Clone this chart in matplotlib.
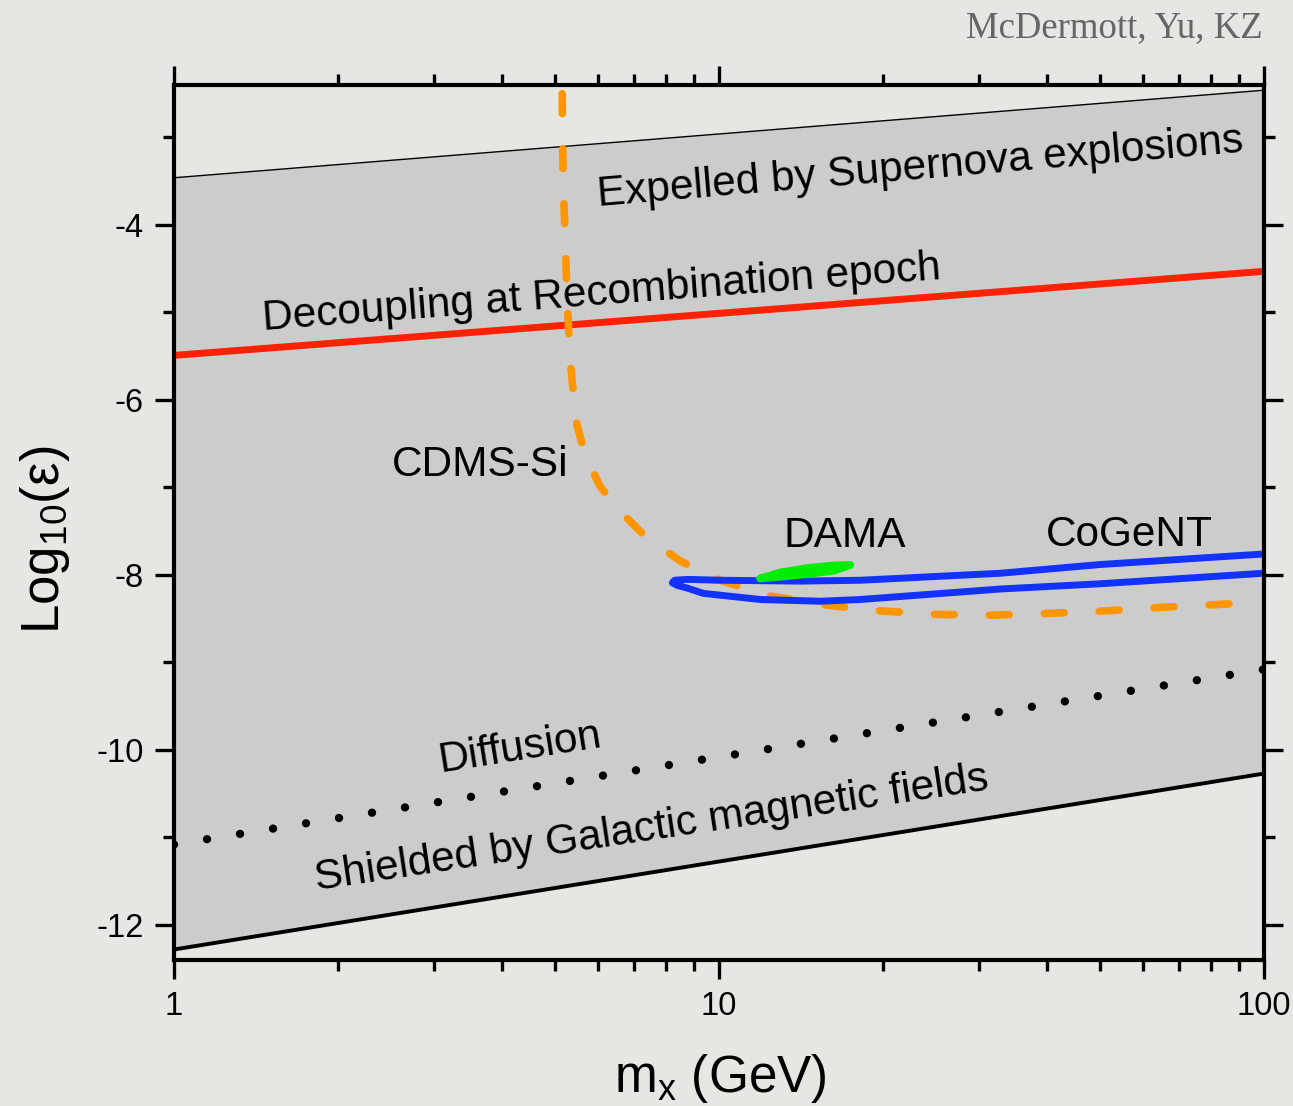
import matplotlib
matplotlib.use("Agg")
import matplotlib.pyplot as plt
from matplotlib.ticker import LogLocator, NullFormatter, FixedLocator, FixedFormatter

plt.rcParams['font.family'] = ['Liberation Sans', 'DejaVu Sans']
plt.rcParams['axes.unicode_minus'] = False
plt.rcParams['mathtext.default'] = 'regular'

# straight boundaries, log10(eps) at m = 1 and m = 100 GeV
edge_m = [1, 100]
supernova_v = [-3.46, -2.46]
recomb_v = [-5.49, -4.53]
diffusion_v = [-11.08, -9.08]
shielded_v = [-12.28, -10.27]

# CDMS-Si limit (dashed orange)
cdms_m = [5.16, 5.18, 5.27, 5.34, 5.47, 5.69, 6.06, 6.59, 7.33, 8.50, 10.06,
          12.43, 16.02, 19.80, 24.98, 31.52, 39.79, 51.27, 64.7, 100]
cdms_v = [-2.50, -3.46, -4.87, -5.56, -6.24, -6.64, -6.99, -7.27, -7.56, -7.84, -8.06,
          -8.24, -8.35, -8.41, -8.45, -8.46, -8.44, -8.41, -8.37, -8.31]

# CoGeNT region: upper edge right->left, tip, lower edge left->right
cogent_m = [100, 50.2, 32.9, 18.19, 14.11, 10.06, 8.76, 8.30, 8.22,
            8.40, 8.76, 9.37, 11.92, 15.36, 18.19, 32.9, 50.2, 100]
cogent_v = [-7.76, -7.88, -7.98, -8.06, -8.07, -8.06, -8.05, -8.06, -8.09,
            -8.12, -8.15, -8.21, -8.28, -8.30, -8.28, -8.16, -8.10, -7.98]

# DAMA region
dama_m = [11.92, 13.0, 14.54, 16.3, 17.44, 16.3, 14.54, 13.0, 11.92]
dama_v = [-8.04, -7.97, -7.92, -7.89, -7.885, -7.95, -7.99, -8.02, -8.04]

bg = '#e6e6e2'
fig = plt.figure(figsize=(12.93, 11.06), dpi=100, facecolor=bg)
ax = fig.add_axes([174/1293, 1 - 960/1106, (1263.5 - 174)/1293, (960 - 85)/1106])
ax.set_facecolor(bg)
ax.set_xscale('log')
ax.set_xlim(1, 100)
ax.set_ylim(-12.4, -2.4)

ax.fill_between(edge_m, shielded_v, supernova_v, color='#cccccc', lw=0, zorder=1)
ax.plot(edge_m, supernova_v, color='black', lw=1.0, zorder=2)
ax.plot(edge_m, shielded_v, color='black', lw=2.8, zorder=2)
ax.plot(edge_m, recomb_v, color='#ff2200', lw=5, solid_capstyle='butt', zorder=3)
ax.plot(edge_m, diffusion_v, color='black', lw=6, dashes=(0.01, 4.0),
        dash_capstyle='round', zorder=3)
ax.plot(cdms_m, cdms_v, color='#ff9500', lw=5.5, dashes=(2.6, 4.6),
        dash_capstyle='round', zorder=4)
ax.plot(cogent_m, cogent_v, color='#1432ff', lw=5, solid_joinstyle='round', zorder=5)
ax.plot(dama_m, dama_v, color='#00ee00', lw=5.5, solid_joinstyle='round',
        solid_capstyle='round', zorder=6)

fs = 30.5
ax.text(6.01, -3.78, 'Expelled by Supernova explosions', fontsize=fs, rotation=4.8,
        rotation_mode='anchor', ha='left', va='baseline', zorder=7)
ax.text(1.457, -5.20, 'Decoupling at Recombination epoch', fontsize=fs, rotation=4.3,
        rotation_mode='anchor', ha='left', va='baseline', zorder=7)
ax.text(2.514, -6.87, 'CDMS-Si', fontsize=fs, ha='left', va='baseline', zorder=7)
ax.text(13.14, -7.68, 'DAMA', fontsize=fs, ha='left', va='baseline', zorder=7)
ax.text(39.78, -7.67, 'CoGeNT', fontsize=fs, ha='left', va='baseline', zorder=7)
ax.text(3.08, -10.25, 'Diffusion', fontsize=fs, rotation=9,
        rotation_mode='anchor', ha='left', va='baseline', zorder=7)
ax.text(1.83, -11.60, 'Shielded by Galactic magnetic fields', fontsize=fs, rotation=8.5,
        rotation_mode='anchor', ha='left', va='baseline', zorder=7)

# axes styling
for s in ax.spines.values():
    s.set_linewidth(3)
    s.set_zorder(10)
ax.xaxis.set_major_locator(FixedLocator([1, 10, 100]))
ax.xaxis.set_major_formatter(FixedFormatter(['1', '10', '100']))
ax.xaxis.set_minor_locator(LogLocator(base=10, subs=range(2, 10)))
ax.xaxis.set_minor_formatter(NullFormatter())
ax.set_yticks([-12, -10, -8, -6, -4])
ax.set_yticklabels(['-12', '-10', '-8', '-6', '-4'])
ax.set_yticks([-11, -9, -7, -5, -3], minor=True)
ax.tick_params(which='both', direction='out', top=True, right=True, width=2.4,
               labelsize=23.5, pad=8)
ax.tick_params(which='major', length=14)
ax.tick_params(which='minor', length=8)

fig.text(45/1293, 1 - 540/1106, 'Log$_{10}$(ε)', fontsize=38,
         rotation=90, ha='center', va='center')
fig.text(720/1293, 1 - 1092/1106, r'm$_{x}$ (GeV)', fontsize=37,
         ha='center', va='baseline')
fig.text(1263/1293, 1 - 37/1106, 'McDermott, Yu, KZ', fontsize=26.5,
         family='Liberation Serif', color='#666666', ha='right', va='baseline')

fig.savefig('out.png', dpi=100, facecolor=bg)
